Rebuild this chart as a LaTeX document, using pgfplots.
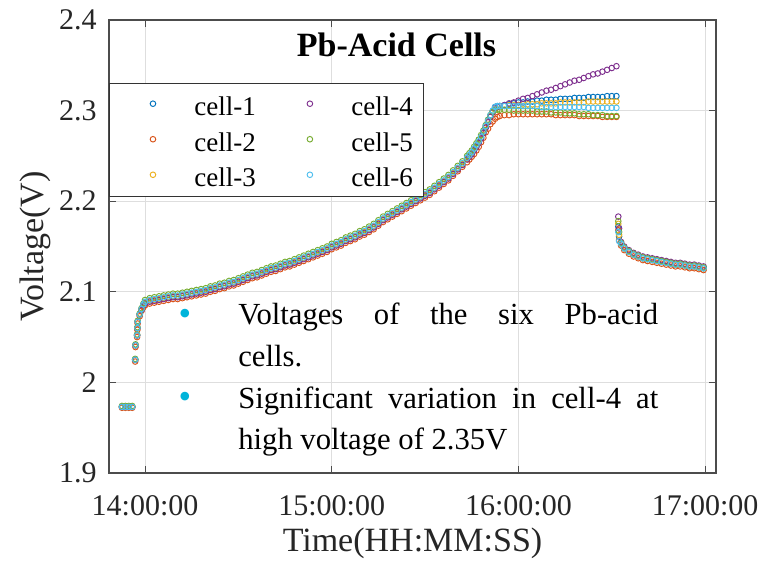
\documentclass[border=0pt]{standalone}
\usepackage{pgfplots}
\usepackage{pgfplotstable}
\pgfplotsset{compat=1.18}
\usepackage{fontspec}
\setmainfont{Liberation Serif}
\newfontfamily\tnr{Liberation Serif}
\definecolor{c1}{RGB}{0,114,189}
\definecolor{c2}{RGB}{217,83,25}
\definecolor{c3}{RGB}{237,177,32}
\definecolor{c4}{RGB}{126,47,142}
\definecolor{c5}{RGB}{119,172,48}
\definecolor{c6}{RGB}{77,190,238}
\definecolor{bulletcyan}{RGB}{0,180,218}

% m = minutes after 14:00:00
\pgfplotstableread{
m c1 c2 c3 c4 c5 c6
-7.4 1.973 1.972 1.973 1.973 1.974 1.973
-6.3 1.973 1.972 1.973 1.973 1.974 1.973
-5.2 1.973 1.972 1.973 1.973 1.974 1.973
-4.1 1.973 1.972 1.973 1.973 1.974 1.973
-3.15 2.025 2.023 2.025 2.025 2.026 2.025
-3.05 2.041 2.039 2.041 2.041 2.042 2.041
-2.55 2.052 2.050 2.052 2.052 2.053 2.052
-2.45 2.060 2.058 2.060 2.060 2.061 2.060
-2.35 2.067 2.065 2.067 2.067 2.068 2.067
-1.7 2.075 2.073 2.075 2.075 2.076 2.075
-1.1 2.081 2.079 2.081 2.080 2.082 2.081
-0.5 2.086 2.083 2.085 2.085 2.087 2.086
0 2.088 2.085 2.088 2.087 2.091 2.089
1.5 2.090 2.087 2.090 2.089 2.093 2.091
3 2.091 2.088 2.091 2.090 2.094 2.092
4.5 2.092 2.089 2.092 2.091 2.095 2.093
6 2.093 2.090 2.093 2.092 2.096 2.094
7.5 2.094 2.091 2.094 2.093 2.097 2.095
9 2.095 2.092 2.095 2.094 2.098 2.096
10.5 2.095 2.092 2.095 2.094 2.098 2.096
12 2.096 2.093 2.096 2.095 2.099 2.097
13.5 2.097 2.094 2.097 2.096 2.100 2.098
15 2.098 2.095 2.098 2.097 2.101 2.099
16.5 2.099 2.096 2.099 2.098 2.102 2.100
18 2.100 2.097 2.100 2.099 2.103 2.101
19.5 2.101 2.098 2.101 2.100 2.104 2.102
21 2.103 2.100 2.103 2.102 2.106 2.104
22.5 2.104 2.101 2.104 2.103 2.107 2.105
24 2.106 2.103 2.106 2.105 2.109 2.107
25.5 2.107 2.104 2.107 2.106 2.110 2.108
27 2.109 2.106 2.109 2.108 2.112 2.110
28.5 2.110 2.107 2.110 2.109 2.113 2.111
30 2.112 2.109 2.112 2.111 2.115 2.113
31.5 2.114 2.111 2.114 2.113 2.117 2.115
33 2.116 2.113 2.116 2.115 2.119 2.117
34.5 2.118 2.115 2.118 2.117 2.121 2.119
36 2.119 2.116 2.119 2.118 2.122 2.120
37.5 2.121 2.118 2.121 2.120 2.124 2.122
39 2.123 2.120 2.123 2.122 2.126 2.124
40.5 2.125 2.122 2.125 2.124 2.128 2.126
42 2.126 2.123 2.126 2.125 2.129 2.127
43.5 2.128 2.125 2.128 2.127 2.131 2.129
45 2.130 2.127 2.130 2.129 2.133 2.131
46.5 2.131 2.128 2.131 2.130 2.134 2.132
48 2.133 2.130 2.133 2.132 2.136 2.134
49.5 2.135 2.132 2.135 2.134 2.138 2.136
51 2.137 2.134 2.137 2.136 2.140 2.138
52.5 2.139 2.136 2.139 2.138 2.142 2.140
54 2.141 2.138 2.141 2.140 2.144 2.142
55.5 2.143 2.140 2.143 2.142 2.146 2.144
57 2.145 2.142 2.145 2.144 2.148 2.146
58.5 2.147 2.144 2.147 2.146 2.150 2.148
60 2.150 2.147 2.150 2.149 2.153 2.151
61.5 2.152 2.149 2.152 2.151 2.155 2.153
63 2.154 2.151 2.154 2.153 2.157 2.155
64.5 2.157 2.154 2.157 2.156 2.160 2.158
66 2.159 2.156 2.159 2.158 2.162 2.160
67.5 2.161 2.158 2.161 2.160 2.164 2.162
69 2.164 2.161 2.164 2.163 2.167 2.165
70.5 2.166 2.163 2.166 2.165 2.169 2.167
72 2.169 2.166 2.169 2.168 2.172 2.170
73.5 2.172 2.169 2.172 2.171 2.175 2.173
75 2.176 2.173 2.176 2.175 2.179 2.177
76.5 2.180 2.177 2.180 2.179 2.183 2.181
78 2.183 2.180 2.183 2.182 2.186 2.184
79.5 2.186 2.183 2.186 2.185 2.189 2.187
81 2.189 2.186 2.189 2.188 2.192 2.190
82.5 2.192 2.189 2.192 2.191 2.195 2.193
84 2.195 2.192 2.195 2.194 2.198 2.196
85.5 2.198 2.195 2.198 2.197 2.201 2.199
87 2.201 2.198 2.201 2.200 2.204 2.202
88.5 2.204 2.201 2.204 2.203 2.207 2.205
90 2.207 2.204 2.207 2.206 2.210 2.208
91.5 2.210 2.207 2.210 2.209 2.213 2.211
93 2.214 2.211 2.214 2.213 2.217 2.215
94.5 2.218 2.215 2.218 2.217 2.221 2.219
96 2.222 2.219 2.222 2.221 2.225 2.223
97.5 2.226 2.223 2.226 2.225 2.229 2.227
99 2.231 2.228 2.231 2.230 2.234 2.232
100.5 2.236 2.233 2.236 2.235 2.239 2.237
102 2.241 2.238 2.241 2.240 2.244 2.242
103.5 2.247 2.243 2.247 2.246 2.250 2.248
104.25 2.250 2.246 2.250 2.249 2.253 2.251
105 2.253 2.249 2.253 2.252 2.256 2.254
105.75 2.257 2.252 2.257 2.256 2.260 2.258
106.5 2.261 2.256 2.261 2.260 2.264 2.262
107.25 2.265 2.260 2.265 2.264 2.268 2.266
108 2.270 2.265 2.270 2.269 2.273 2.271
108.75 2.276 2.270 2.276 2.275 2.278 2.277
109.5 2.282 2.276 2.282 2.281 2.284 2.283
110.25 2.288 2.280 2.288 2.287 2.290 2.289
111 2.294 2.285 2.294 2.293 2.295 2.295
111.75 2.299 2.288 2.299 2.298 2.299 2.300
112.5 2.304 2.291 2.303 2.303 2.301 2.304
113.25 2.305 2.293 2.304 2.304 2.301 2.305
114 2.305 2.294 2.305 2.305 2.301 2.305
115.5 2.306 2.295 2.305 2.306 2.301 2.305
117 2.307 2.295 2.306 2.308 2.301 2.305
118.5 2.308 2.296 2.306 2.309 2.300 2.305
120 2.309 2.296 2.306 2.311 2.300 2.305
121.5 2.309 2.296 2.307 2.313 2.300 2.305
123 2.310 2.296 2.307 2.314 2.300 2.305
124.5 2.310 2.296 2.307 2.316 2.300 2.305
126 2.311 2.296 2.307 2.318 2.299 2.305
127.5 2.311 2.296 2.308 2.320 2.299 2.304
129 2.312 2.296 2.308 2.322 2.299 2.304
130.5 2.312 2.296 2.308 2.323 2.298 2.304
132 2.312 2.295 2.308 2.325 2.298 2.304
133.5 2.313 2.295 2.309 2.327 2.298 2.304
135 2.313 2.295 2.309 2.329 2.297 2.304
136.5 2.313 2.295 2.309 2.331 2.297 2.304
138 2.314 2.295 2.309 2.333 2.297 2.304
139.5 2.314 2.294 2.309 2.334 2.296 2.304
141 2.314 2.294 2.309 2.336 2.296 2.304
142.5 2.315 2.294 2.310 2.338 2.296 2.303
144 2.315 2.294 2.310 2.340 2.295 2.303
145.5 2.315 2.294 2.310 2.341 2.295 2.303
147 2.315 2.293 2.310 2.343 2.295 2.303
148.5 2.316 2.293 2.310 2.345 2.294 2.303
150 2.316 2.293 2.310 2.347 2.294 2.303
151.5 2.316 2.293 2.310 2.349 2.294 2.303
152.1 2.172 2.168 2.175 2.183 2.178 2.166
152.35 2.161 2.157 2.163 2.170 2.166 2.156
153 2.153 2.151 2.153 2.155 2.154 2.153
154 2.148 2.146 2.148 2.150 2.149 2.148
155.5 2.144 2.142 2.144 2.146 2.145 2.144
157 2.141 2.139 2.141 2.143 2.142 2.141
158.5 2.139 2.137 2.139 2.141 2.140 2.139
160 2.137 2.135 2.137 2.139 2.138 2.137
161.5 2.136 2.134 2.136 2.138 2.137 2.136
163 2.135 2.133 2.135 2.137 2.136 2.135
164.5 2.134 2.132 2.134 2.136 2.135 2.134
166 2.133 2.131 2.133 2.135 2.134 2.133
167.5 2.132 2.130 2.132 2.134 2.133 2.132
169 2.131 2.129 2.131 2.133 2.132 2.131
170.5 2.130 2.128 2.130 2.132 2.131 2.130
172 2.130 2.128 2.130 2.132 2.131 2.130
173.5 2.129 2.127 2.129 2.131 2.130 2.129
175 2.128 2.126 2.128 2.130 2.129 2.128
176.5 2.128 2.126 2.128 2.130 2.129 2.128
178 2.127 2.125 2.127 2.129 2.128 2.127
179.5 2.126 2.124 2.126 2.128 2.127 2.126
}\cells

\begin{document}
\begin{tikzpicture}
\begin{axis}[
  width=455.25pt, height=339.75pt, scale only axis,
  xmin=-11.57, xmax=183.5, ymin=1.9, ymax=2.4,
  xtick={0,60,120,180},
  xticklabels={14:00:00,15:00:00,16:00:00,17:00:00},
  ytick={1.9,2,2.1,2.2,2.3,2.4},
  yticklabels={1.9,2,2.1,2.2,2.3,2.4},
  grid=major,
  major grid style={black!13, line width=0.5pt},
  tick align=inside, major tick length=5pt,
  tick style={black!70, line width=0.6pt},
  axis line style={black!70, line width=0.9pt},
  /pgf/number format/assume math mode=true,
  ticklabel style={font=\tnr\fontsize{22.5}{27}\selectfont, text=black!85},
  yticklabel style={inner sep=0pt, xshift=-9pt},
  xticklabel style={inner sep=0pt, yshift=-16.5pt},
  xlabel={Time(HH:MM:SS)}, ylabel={Voltage(V)},
  label style={font=\tnr\fontsize{25.5}{30}\selectfont, text=black!85, inner sep=0pt},
  xlabel style={at={(axis description cs:0.5,-0.1722)}, anchor=base},
  ylabel style={at={(axis description cs:-0.1087,0.5)}, anchor=base},
  legend columns=2,
  legend cell align=left,
  legend style={at={(rel axis cs:0,0.861)}, anchor=north west,
    draw=black!80, line width=0.75pt, fill=white,
    inner xsep=0pt, inner ysep=2.25pt,
    font=\tnr\fontsize{20.25}{24}\selectfont,
    nodes={inner sep=0pt, text width=54pt, text height=21.75pt, text depth=4.9pt, align=left},
    /tikz/column sep=0pt, /tikz/row sep=0pt},
  legend image code/.code={\path (-32.25pt,0pt) (30.75pt,0pt);
    \draw[#1] plot coordinates {(0pt,0.4pt)};},
  legend entries={cell-1,cell-4,cell-2,cell-5,cell-3,cell-6},
  every axis plot/.append style={only marks, mark=o, mark size=2.1pt, line width=0.7pt},
]
\addlegendimage{only marks, mark=o, mark size=2.1pt, line width=0.7pt, color=c1}
\addlegendimage{only marks, mark=o, mark size=2.1pt, line width=0.7pt, color=c4}
\addlegendimage{only marks, mark=o, mark size=2.1pt, line width=0.7pt, color=c2}
\addlegendimage{only marks, mark=o, mark size=2.1pt, line width=0.7pt, color=c5}
\addlegendimage{only marks, mark=o, mark size=2.1pt, line width=0.7pt, color=c3}
\addlegendimage{only marks, mark=o, mark size=2.1pt, line width=0.7pt, color=c6}
\addplot[forget plot, color=c1] table[x=m, y=c1] {\cells};
\addplot[forget plot, color=c2] table[x=m, y=c2] {\cells};
\addplot[forget plot, color=c3] table[x=m, y=c3] {\cells};
\addplot[forget plot, color=c4] table[x=m, y=c4] {\cells};
\addplot[forget plot, color=c5] table[x=m, y=c5] {\cells};
\addplot[forget plot, color=c6] table[x=m, y=c6] {\cells};

\node[font=\tnr\bfseries\fontsize{25.5}{30}\selectfont, anchor=base, inner sep=0pt]
  at (rel axis cs:0.4737,0.919) {Pb-Acid Cells};

\node[text=bulletcyan, font=\tnr\fontsize{27}{27}\selectfont, inner sep=0pt, yshift=-2.6pt]
  at (axis cs:12.85,2.0755) {\textbullet};
\node[text=bulletcyan, font=\tnr\fontsize{27}{27}\selectfont, inner sep=0pt, yshift=-2.6pt]
  at (axis cs:12.85,1.9839) {\textbullet};
\node[anchor=base west, inner sep=0pt, text width=315pt, align=justify,
  font=\tnr\fontsize{23}{31.25}\selectfont]
  at (axis cs:29.9,2.0634) {Voltages of the six Pb-acid\linebreak cells.};
\node[anchor=base west, inner sep=0pt, text width=315pt, align=justify,
  font=\tnr\fontsize{23}{31.25}\selectfont]
  at (axis cs:29.9,1.9717) {Significant variation in cell-4 at\linebreak high voltage of 2.35V};
\end{axis}
\path (current axis.south west) ++(-81.75pt,-67.5pt);
\path (current axis.north east) ++(37.5pt,15pt);
\end{tikzpicture}
\end{document}
